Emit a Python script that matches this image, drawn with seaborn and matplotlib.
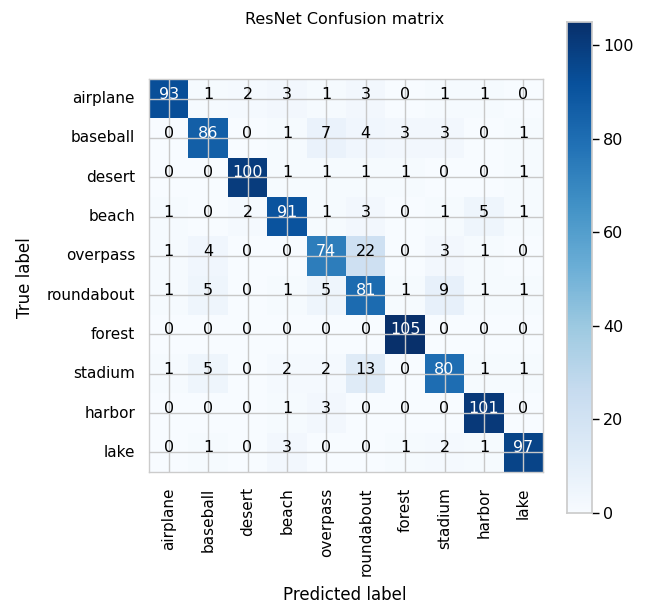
import numpy as np
import pandas as pd
import matplotlib
matplotlib.use("Agg")
import matplotlib.pyplot as plt
import seaborn as sns

classes = ["airplane", "baseball", "desert", "beach", "overpass",
           "roundabout", "forest", "stadium", "harbor", "lake"]
row_airplane   = [93, 1, 2, 3, 1, 3, 0, 1, 1, 0]
row_baseball   = [0, 86, 0, 1, 7, 4, 3, 3, 0, 1]
row_desert     = [0, 0, 100, 1, 1, 1, 1, 0, 0, 1]
row_beach      = [1, 0, 2, 91, 1, 3, 0, 1, 5, 1]
row_overpass   = [1, 4, 0, 0, 74, 22, 0, 3, 1, 0]
row_roundabout = [1, 5, 0, 1, 5, 81, 1, 9, 1, 1]
row_forest     = [0, 0, 0, 0, 0, 0, 105, 0, 0, 0]
row_stadium    = [1, 5, 0, 2, 2, 13, 0, 80, 1, 1]
row_harbor     = [0, 0, 0, 1, 3, 0, 0, 0, 101, 0]
row_lake       = [0, 1, 0, 3, 0, 0, 1, 2, 1, 97]
title = "ResNet Confusion matrix"
xlabel = "Predicted label"
ylabel = "True label"
cbar_ticks = [0, 20, 40, 60, 80, 100]

cm = np.array([row_airplane, row_baseball, row_desert, row_beach, row_overpass,
               row_roundabout, row_forest, row_stadium, row_harbor, row_lake])
df = pd.DataFrame(cm, index=classes, columns=classes)

sns.set_theme(style="whitegrid")
plt.rcParams['font.family'] = ['DejaVu Sans']

fig = plt.figure(figsize=(6.46, 6.07), dpi=100)
ax = fig.add_axes([149/646, 1-472/607, 394/646, 393/607])
cax = fig.add_axes([567/646, 1-513/607, 25/646, 491/607])

sns.heatmap(df, ax=ax, cmap="Blues", vmin=0, vmax=cm.max(), annot=False,
            cbar=True, cbar_ax=cax, square=False, linewidths=0)

n = len(classes)
centers = np.arange(n) + 0.5
ax.set_xticks(centers)
ax.set_yticks(centers)
ax.set_xticklabels(classes, rotation=90, fontsize=11, color="black")
ax.set_yticklabels(classes, rotation=0, fontsize=11, color="black")
ax.grid(True, color="#c8c8c8", linewidth=1.0)
ax.set_axisbelow(False)
ax.tick_params(axis="y", length=0, pad=10)
ax.tick_params(axis="x", length=0, pad=11)
for s in ax.spines.values():
    s.set_visible(True)
    s.set_color("#cccccc")
    s.set_linewidth(1.0)

thresh = cm.max() / 2.0
for i in range(n):
    for j in range(n):
        ax.text(j + 0.5, i + 0.5, str(cm[i, j]), ha="center", va="baseline",
                fontsize=11.5, color="white" if cm[i, j] > thresh else "black",
                zorder=5)

cax.yaxis.set_ticks_position("right")
cax.set_yticks(cbar_ticks)
cax.tick_params(axis="y", which="major", right=True, length=5, width=1,
                color="black", direction="out", labelsize=11.5, labelcolor="black", pad=3)
for s in cax.spines.values():
    s.set_visible(True)
    s.set_color("#cccccc")

fig.text(345/646, 1-20/607, title, ha="center", va="center", fontsize=11.5, color="black")
fig.text(345/646, 1-595/607, xlabel, ha="center", va="center", fontsize=12, color="black")
fig.text(25/646, 1-278/607, ylabel, ha="center", va="center", rotation=90, fontsize=12, color="black")
ax.set_xlabel("")
ax.set_ylabel("")

fig.savefig("out.png", dpi=100)
